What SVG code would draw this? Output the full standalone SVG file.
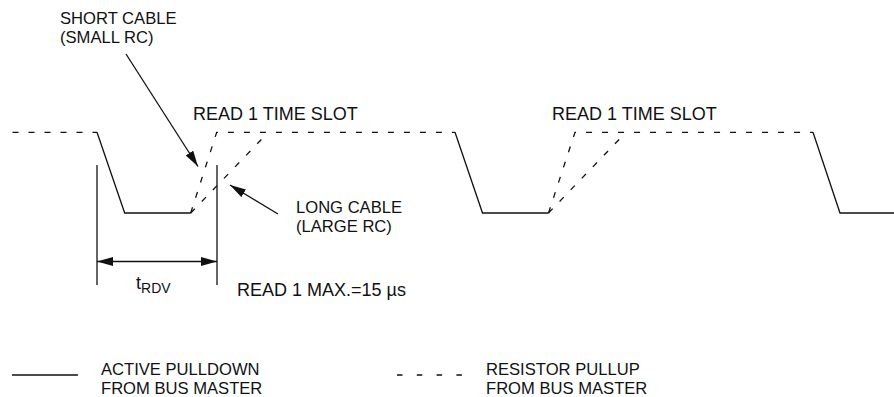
<svg xmlns="http://www.w3.org/2000/svg" width="894" height="397" viewBox="0 0 894 397">
<style>
.t{font-family:"Liberation Sans",Arial,sans-serif;font-size:18px;fill:#111}
.m{font-size:16.6px}
.s{fill:none;stroke:#111;stroke-width:1.3}
.d{fill:none;stroke:#111;stroke-width:1.3;stroke-dasharray:6 10}
</style>
<defs>
<marker id="ah" viewBox="0 0 16 9" refX="16" refY="4.5" markerWidth="16" markerHeight="9" markerUnits="userSpaceOnUse" orient="auto-start-reverse">
<path d="M0,0 L16,4.5 L0,9 Z" fill="#111"/>
</marker>
</defs>
<rect width="894" height="397" fill="#fff"/>
<g id="waveform">
<path class="d" d="M12.5,132.3 H97"/>
<path class="s" d="M97,132.3 L124.7,213 H190.7"/>
<path class="d" d="M190.7,213 L216.7,132.3 H455"/>
<path class="d" d="M190.7,213 L268.3,132.3"/>
<path class="s" d="M455,132.3 L482.5,213 H548.5"/>
<path class="d" d="M548.5,213 L575,132.3 H813"/>
<path class="d" d="M548.5,213 L626,132.3"/>
<path class="s" d="M813,132.3 L840,213 H894"/>
</g>
<g id="connectors">
<path class="s" d="M97,165 V285"/>
<path class="s" d="M217,165 V285"/>
<path class="s" d="M97,261.5 H217" marker-start="url(#ah)" marker-end="url(#ah)"/>
<path class="s" d="M126,54 L198,166.5" marker-end="url(#ah)"/>
<path class="s" d="M278,214 L230,185" marker-end="url(#ah)"/>
</g>
<g id="label-short">
<text class="t m" x="60" y="24">SHORT CABLE<tspan x="60" dy="18.7">(SMALL RC)</tspan></text>
</g>
<g id="label-slot1"><text class="t" x="193" y="120">READ 1 TIME SLOT</text></g>
<g id="label-slot2"><text class="t" x="552" y="120">READ 1 TIME SLOT</text></g>
<g id="label-long">
<text class="t m" x="296" y="213">LONG CABLE<tspan x="296" dy="18.7">(LARGE RC)</tspan></text>
</g>
<g id="label-trdv">
<text class="t" x="136" y="289">t<tspan style="font-size:14px" dy="4">RDV</tspan></text>
</g>
<g id="label-max"><text class="t" x="237" y="296">READ 1 MAX.=15 µs</text></g>
<g id="legend-active">
<path class="s" d="M12,375 H78"/>
<text class="t m" x="101" y="375">ACTIVE PULLDOWN<tspan x="101" dy="18.7">FROM BUS MASTER</tspan></text>
</g>
<g id="legend-pullup">
<path class="s" d="M397,375 H462" style="stroke-dasharray:5.5 14.3"/>
<text class="t m" x="486" y="375">RESISTOR PULLUP<tspan x="486" dy="18.7">FROM BUS MASTER</tspan></text>
</g>
</svg>
